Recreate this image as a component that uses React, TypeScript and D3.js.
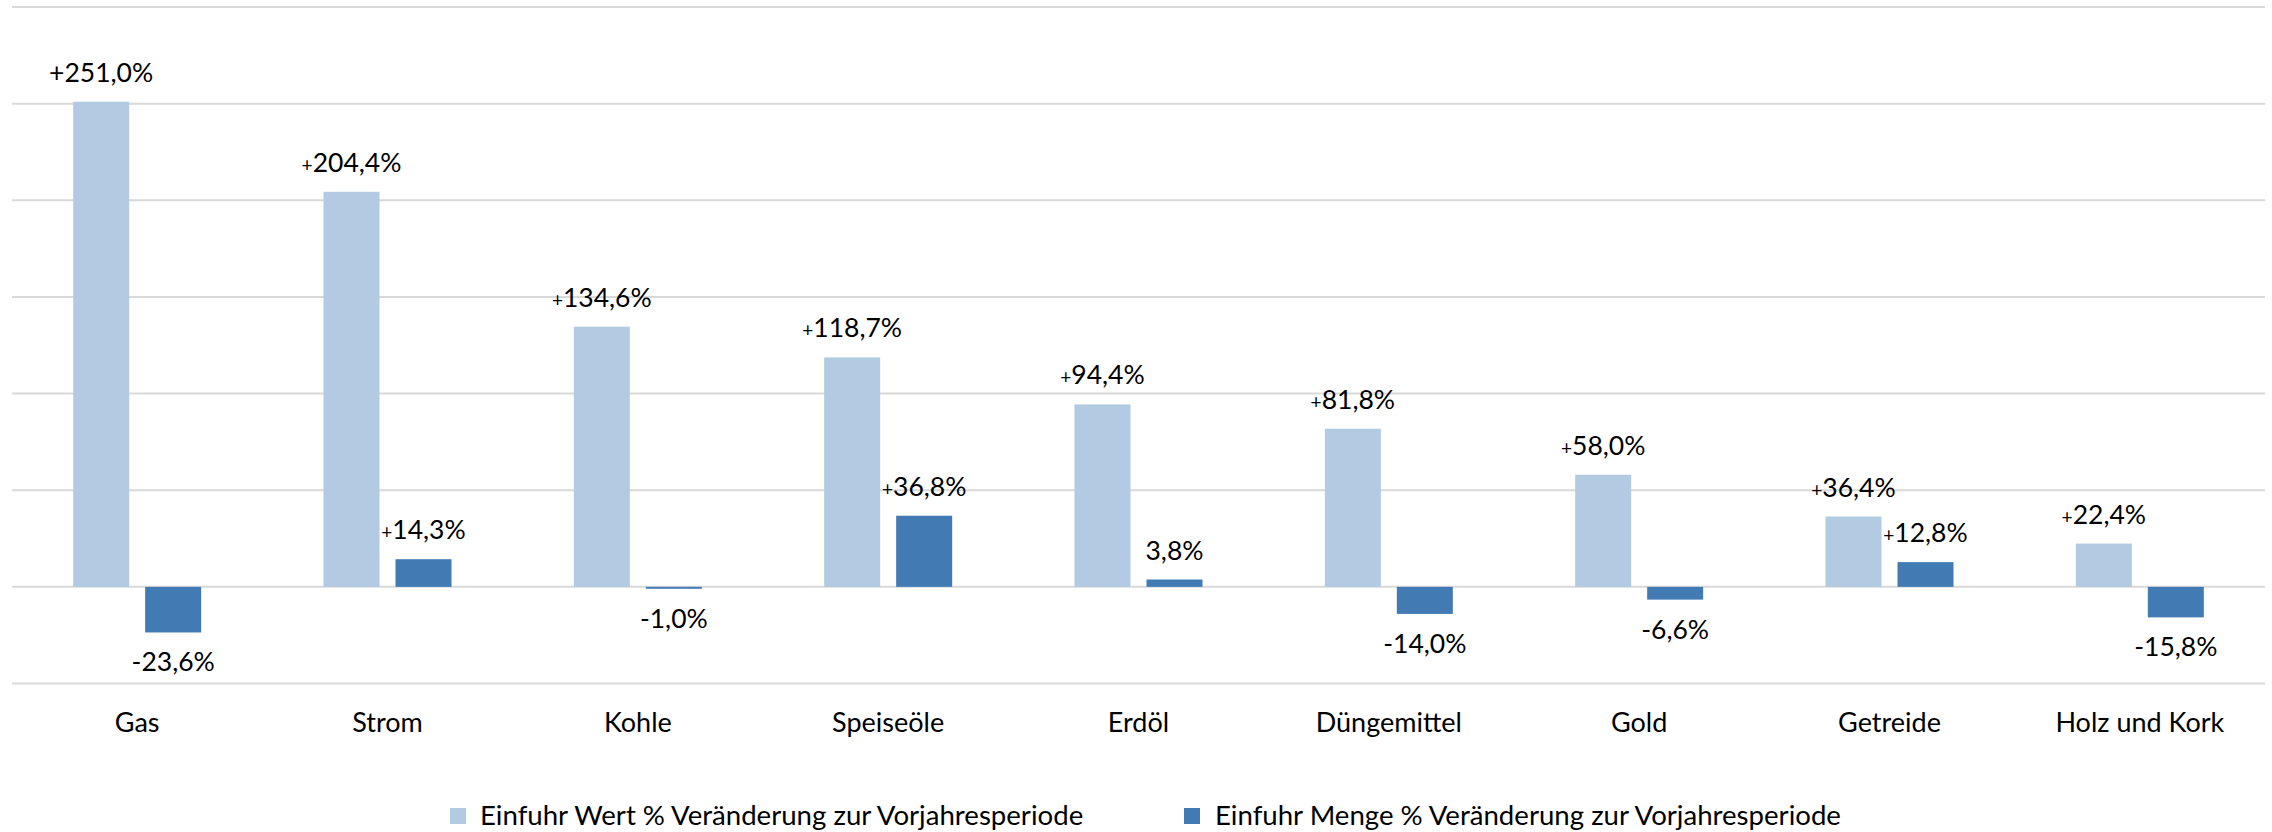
import React from "react";
import * as d3 from "d3";

const categories = ["Gas", "Strom", "Kohle", "Speiseöle", "Erdöl", "Düngemittel", "Gold", "Getreide", "Holz und Kork"];
const wertValues = [251.0, 204.4, 134.6, 118.7, 94.4, 81.8, 58.0, 36.4, 22.4];
const mengeValues = [-23.6, 14.3, -1.0, 36.8, 3.8, -14.0, -6.6, 12.8, -15.8];
const wertLabels = ["+251,0%", "+204,4%", "+134,6%", "+118,7%", "+94,4%", "+81,8%", "+58,0%", "+36,4%", "+22,4%"];
const mengeLabels = ["-23,6%", "+14,3%", "-1,0%", "+36,8%", "3,8%", "-14,0%", "-6,6%", "+12,8%", "-15,8%"];
const seriesNames = ["Einfuhr Wert % Veränderung zur Vorjahresperiode", "Einfuhr Menge % Veränderung zur Vorjahresperiode"];
const yTicks = [-50, 0, 50, 100, 150, 200, 250, 300];

const W = 2272;
const H = 832;
const COLORS = ["#B2CBE2", "#427AB3"];
const FONT = "Lato, 'Open Sans', sans-serif";
const FS = 26.5;
const FS_CAT = 27;
const FS_LEG = 27.6;

function Label({ x, y, text, bigPlus }: { x: number; y: number; text: string; bigPlus: boolean }) {
  const hasPlus = text.startsWith("+");
  return (
    <text x={x} y={y} textAnchor="middle" fontFamily={FONT} fontSize={FS} fill="#000">
      {hasPlus ? (
        <>
          <tspan fontSize={bigPlus ? FS : FS * 0.72}>+</tspan>
          <tspan>{text.slice(1)}</tspan>
        </>
      ) : (
        text
      )}
    </text>
  );
}

export default function App() {
  const x = d3.scaleBand<string>().domain(categories).range([12, 2265]).padding(0);
  const bw = x.bandwidth();
  const groupW = 128;
  const xSub = d3
    .scaleBand<string>()
    .domain(["wert", "menge"])
    .range([(bw - groupW) / 2, (bw + groupW) / 2])
    .paddingInner(16 / 72)
    .paddingOuter(0);
  const y = d3.scaleLinear().domain([-50, 300]).range([683.5, 7]);
  const y0 = y(0);
  const barW = xSub.bandwidth();

  const series = [
    { key: "wert", values: wertValues, labels: wertLabels, color: COLORS[0] },
    { key: "menge", values: mengeValues, labels: mengeLabels, color: COLORS[1] },
  ];

  return (
    <svg
      width={W}
      height={H}
      style={{ position: "absolute", left: 0, top: 0, background: "#fff" }}
      xmlns="http://www.w3.org/2000/svg"
    >
      <rect x={0} y={0} width={W} height={H} fill="#fff" />
      {yTicks.map((t) => (
        <line key={t} x1={12} x2={2265} y1={y(t)} y2={y(t)} stroke="#D9D9D9" strokeWidth={2} />
      ))}
      {series.map((s) =>
        categories.map((c, i) => {
          const v = s.values[i];
          const bx = (x(c) as number) + (xSub(s.key) as number);
          const top = v >= 0 ? y(v) : y0;
          const h = Math.abs(y(v) - y0);
          return <rect key={s.key + c} x={bx} y={top} width={barW} height={h} fill={s.color} />;
        })
      )}
      {series.map((s) =>
        categories.map((c, i) => {
          const v = s.values[i];
          const cx = (x(c) as number) + (xSub(s.key) as number) + barW / 2;
          const ly = v >= 0 ? y(v) - 20 : y(v) + 39;
          return <Label key={"l" + s.key + c} x={cx} y={ly} text={s.labels[i]} bigPlus={i === 0 && s.key === "wert"} />;
        })
      )}
      {categories.map((c) => (
        <text
          key={"c" + c}
          x={(x(c) as number) + bw / 2}
          y={732}
          textAnchor="middle"
          fontFamily={FONT}
          fontSize={FS_CAT}
          fill="#000"
        >
          {c}
        </text>
      ))}
      <g>
        <rect x={450} y={808} width={16} height={16} fill={COLORS[0]} />
        <text x={480} y={825} fontFamily={FONT} fontSize={FS_LEG} fill="#000">
          {seriesNames[0]}
        </text>
        <rect x={1184} y={808} width={16} height={16} fill={COLORS[1]} />
        <text x={1215} y={825} fontFamily={FONT} fontSize={FS_LEG} fill="#000">
          {seriesNames[1]}
        </text>
      </g>
    </svg>
  );
}
